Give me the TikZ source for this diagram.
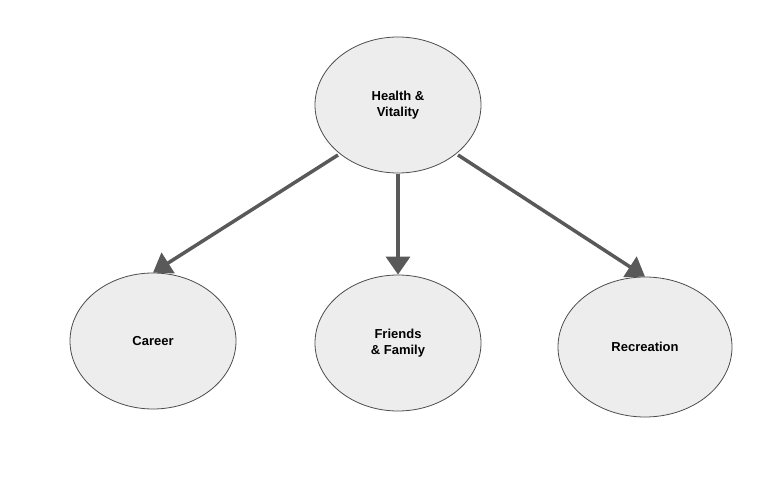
\documentclass[tikz,border=0pt]{standalone}
\usepackage{fontspec}
\setmainfont{Liberation Sans}
\usetikzlibrary{shapes.geometric,arrows.meta}
\begin{document}
\begin{tikzpicture}[x=1pt,y=-1pt,
  el/.style={ellipse,draw=black!70,line width=0.8pt,fill=black!7,align=center,font=\bfseries\fontsize{13}{16}\selectfont},
  ar/.style={draw=black!65,line width=3.5pt,-{Triangle[length=18pt,width=24pt]}}]
\useasboundingbox (0,0) rectangle (768,478);
\node[el,minimum width=166pt,minimum height=136pt] (h) at (398,105) {Health \&\\Vitality};
\node[el,minimum width=166pt,minimum height=136pt] (c) at (153,341) {Career};
\node[el,minimum width=166pt,minimum height=136pt] (f) at (398,343) {Friends\\\& Family};
\node[el,minimum width=174pt,minimum height=140pt] (r) at (645,347) {Recreation};
\coordinate (a1) at (338,155); \coordinate (a2) at (398,174); \coordinate (a3) at (458,155);
\draw[ar] (a1) -- (c.north);
\draw[ar] (a2) -- (f.north);
\draw[ar] (a3) -- (r.north);
\end{tikzpicture}
\end{document}
